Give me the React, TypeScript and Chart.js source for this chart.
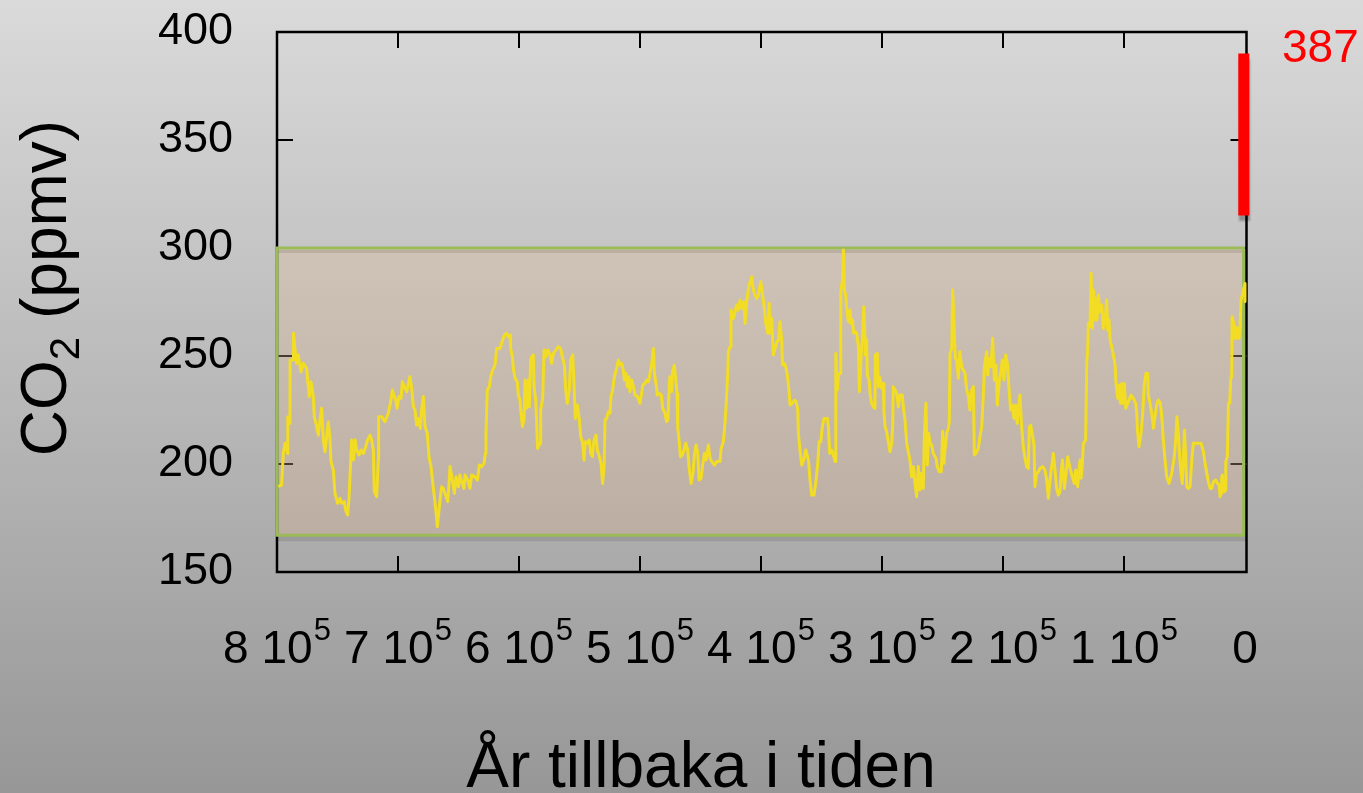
import React, { useEffect, useRef } from "react";
import { Chart, registerables } from "chart.js";

Chart.register(...registerables);

const FONT = "'Liberation Sans', Arial, Helvetica, sans-serif";

// [years before present (thousands), CO2 (ppmv)]
const CO2_RECORD: [number, number][] = [
  [798.9, 189.5], [796.2, 190.3], [794.8, 204.9], [793.4, 209.6], [791.2, 204.9], [791.1, 221.9], [789.3, 218.8], [789.2, 248.1], [786.5, 248.1], [786.4, 260.5],
  [785.1, 252.8], [783.8, 246.6], [782.4, 250.5], [780.2, 242.7], [778.2, 246.6], [775.5, 244.3], [774.7, 238.9], [773.3, 231.2], [771.9, 238.1], [770.0, 231.2],
  [769.2, 221.9], [767.2, 217.3], [765.8, 213.4], [764.5, 220.4], [763.1, 225.8], [761.7, 211.1], [760.3, 205.7], [759.0, 212.7], [757.6, 219.6], [756.2, 211.1],
  [755.4, 201.1], [753.4, 197.2], [752.1, 186.4], [749.9, 181.8], [747.9, 184.1], [746.6, 181.8], [744.4, 182.6], [743.3, 178.7], [741.6, 176.4], [740.5, 184.1],
  [738.3, 211.1], [736.9, 201.8], [735.5, 211.1], [734.2, 206.5], [732.2, 204.2], [730.6, 206.5], [728.6, 204.9], [726.7, 208.0], [725.1, 211.1], [723.1, 213.4],
  [721.8, 211.1], [720.4, 206.5], [719.6, 187.2], [717.6, 184.9], [716.3, 201.8], [716.0, 221.9], [713.5, 221.9], [710.8, 219.6], [708.0, 223.5], [705.8, 229.6],
  [704.7, 234.3], [703.0, 231.2], [701.9, 229.6], [700.8, 225.8], [699.2, 231.2], [697.5, 230.4], [696.4, 238.1], [694.8, 235.8], [692.8, 233.5], [691.5, 237.3],
  [690.1, 240.4], [688.7, 235.0], [687.3, 226.5], [685.9, 225.0], [684.6, 218.0], [683.2, 221.1], [681.5, 216.5], [680.4, 225.8], [679.1, 231.2], [677.7, 217.3],
  [675.8, 214.2], [674.4, 203.4], [672.7, 198.8], [671.6, 192.6], [670.0, 184.9], [668.6, 177.9], [667.5, 171.0], [666.1, 178.7], [664.7, 186.4], [663.9, 189.5],
  [662.5, 188.7], [661.2, 186.4], [658.9, 182.6], [657.9, 190.3], [657.0, 198.8], [655.1, 192.6], [653.4, 186.4], [652.1, 194.1], [650.1, 189.5], [648.8, 194.9],
  [647.4, 191.8], [645.5, 188.7], [644.6, 194.9], [642.4, 192.6], [640.5, 188.7], [639.1, 194.9], [636.4, 194.1],
  [634.4, 192.6], [632.8, 199.5], [630.9, 198.8], [628.9, 200.3], [627.8, 204.9], [627.3, 214.2], [626.2, 234.3], [624.5, 235.8], [623.4, 240.4], [621.8, 243.5],
  [619.8, 245.8], [618.5, 253.5], [615.7, 253.5], [613.5, 257.4], [612.1, 259.7], [610.2, 260.5], [608.8, 258.9], [607.4, 259.7], [606.9, 253.5], [605.5, 249.7],
  [604.7, 244.3], [603.3, 239.7], [601.4, 238.1], [600.6, 231.9], [599.2, 229.6], [598.6, 225.0], [597.2, 217.3], [595.9, 220.4], [595.0, 238.9], [593.7, 225.8],
  [592.3, 238.9], [591.5, 226.5], [590.4, 248.1], [589.5, 249.7], [588.2, 250.5], [587.6, 235.8], [586.2, 229.6], [584.6, 207.2], [582.6, 209.6], [582.1, 225.0],
  [580.4, 230.4], [579.3, 252.8], [577.7, 249.7], [576.3, 252.8], [574.4, 250.5], [573.0, 246.6], [571.6, 251.2], [569.4, 252.8], [567.5, 254.3], [565.6, 253.5],
  [563.9, 248.9], [562.5, 245.8], [561.4, 234.3], [560.1, 228.1], [558.4, 235.0], [557.3, 248.1], [555.6, 250.5], [554.5, 235.8], [553.4, 221.1], [551.8, 227.3],
  [550.1, 220.4], [549.0, 212.7], [547.4, 209.6], [546.3, 201.8], [545.2, 210.3], [543.5, 209.6], [541.9, 211.1], [540.8, 204.9], [539.4, 203.4], [538.0, 211.1],
  [536.4, 213.4], [535.3, 206.5], [533.6, 203.4], [532.2, 200.3], [530.9, 191.0], [529.7, 198.8], [528.9, 220.4], [527.5, 221.1], [526.2, 224.2], [524.8, 223.5],
  [524.0, 231.2], [522.6, 234.3], [521.2, 240.4], [519.3, 244.3], [517.9, 248.1], [516.5, 245.8], [515.1, 246.6], [513.8, 243.5], [512.9, 238.9], [511.8, 242.0],
  [510.5, 235.8], [509.4, 240.4], [508.3, 233.5], [506.9, 238.9], [505.5, 235.8], [504.1, 231.9], [502.2, 231.2], [500.0, 228.1], [498.6, 232.7], [497.8, 236.6],
  [495.9, 237.3], [494.5, 238.9], [493.1, 238.1], [491.7, 242.0], [490.3, 246.6], [489.0, 253.5], [488.1, 242.0], [486.8, 237.3], [485.7, 231.9], [484.0, 232.7],
  [482.4, 231.9], [481.3, 225.8], [479.3, 223.5], [478.0, 219.6], [476.9, 220.4], [475.8, 237.3], [475.2, 240.4],
  [473.8, 233.5], [473.2, 242.7], [471.6, 245.8], [470.5, 238.9], [469.4, 232.7], [468.8, 216.5], [467.7, 211.1], [466.6, 203.4], [465.0, 204.2], [463.3, 207.2],
  [462.2, 209.6], [460.6, 206.5], [459.5, 198.8], [457.8, 191.0], [456.2, 195.7], [455.1, 204.2], [453.7, 208.8], [452.3, 204.9], [451.2, 192.6], [449.5, 193.4],
  [448.4, 198.8], [446.8, 204.9], [445.4, 201.8], [443.5, 208.8], [442.1, 202.6], [440.7, 201.1], [438.5, 199.5], [436.6, 201.1], [433.8, 201.1], [433.0, 207.2],
  [431.1, 210.3], [429.7, 219.6], [428.9, 226.5], [427.5, 242.0], [427.0, 252.0], [425.6, 254.3], [424.8, 271.3], [422.8, 267.4], [421.4, 270.5], [420.3, 273.6],
  [418.7, 271.3], [417.3, 275.9], [415.9, 272.1], [414.3, 275.2], [413.2, 265.1], [411.8, 275.2], [410.4, 281.3], [409.0, 284.4], [407.7, 286.7], [406.3, 280.5],
  [404.9, 278.2], [403.5, 276.7], [402.2, 278.2], [400.2, 284.4], [398.9, 279.0], [397.2, 272.1], [396.1, 265.1], [394.4, 260.5], [393.3, 274.4], [392.2, 260.5],
  [391.1, 267.4], [389.8, 250.5], [388.4, 253.5], [386.7, 256.6], [385.6, 257.4], [384.3, 265.9], [382.9, 257.4], [382.3, 245.8], [380.7, 246.6], [379.6, 245.1],
  [378.2, 241.2], [376.8, 233.5], [376.0, 227.3], [374.1, 228.1], [372.4, 229.6], [371.0, 228.9], [369.6, 225.0], [369.1, 214.2], [367.7, 205.7], [366.3, 199.5],
  [364.7, 201.8], [363.0, 206.5], [360.8, 201.8], [359.5, 192.6], [358.1, 185.6], [356.2, 185.6], [354.5, 192.6], [353.1, 200.3], [352.0, 210.3], [350.6, 210.3],
  [349.3, 217.3], [347.9, 221.1], [345.1, 221.1], [344.3, 217.3], [343.2, 204.9], [341.6, 206.5], [340.2, 204.2], [338.8, 201.1], [338.2, 251.2], [336.9, 234.3],
  [336.0, 241.2], [334.7, 242.0], [334.1, 279.8], [332.7, 285.2], [331.9, 299.1], [331.1, 280.5], [330.0, 278.2], [329.2, 272.1], [327.8, 265.9], [326.4, 271.3],
  [325.6, 265.1], [324.5, 266.7], [323.4, 260.5], [322.3, 261.3], [320.9, 260.5], [319.5, 254.3], [318.7, 233.5], [317.3, 249.7], [316.2, 258.9], [315.1, 272.8],
  [314.0, 257.4],
  [313.8, 250.5], [312.7, 257.4], [312.1, 241.2], [310.5, 238.1], [309.9, 232.7], [308.6, 228.1], [307.2, 226.5], [305.8, 225.8], [305.5, 250.5], [303.9, 251.2],
  [303.0, 235.8], [302.2, 240.4], [301.1, 238.1], [300.3, 235.0], [298.9, 237.3], [298.4, 224.2], [297.5, 217.3], [296.2, 215.0], [294.8, 210.3], [293.4, 205.7],
  [292.0, 209.6], [291.2, 217.3], [290.7, 235.8], [289.3, 234.3], [287.9, 232.7], [286.5, 226.5], [285.1, 231.9], [283.2, 231.9], [282.4, 226.5], [281.0, 220.4],
  [279.6, 209.6], [278.3, 205.7], [276.9, 201.8], [275.5, 194.1], [274.1, 198.8], [272.7, 191.0], [271.4, 184.9], [270.0, 198.8], [268.6, 188.0], [267.2, 195.7],
  [265.9, 188.7], [265.0, 212.7], [263.7, 228.1], [262.6, 199.5], [261.4, 214.2], [260.3, 209.6], [259.0, 208.8], [257.6, 204.9], [255.4, 202.6], [254.3, 198.8],
  [252.6, 196.4], [251.0, 196.4], [249.9, 215.0], [248.8, 200.3], [247.7, 208.0], [246.6, 214.2], [245.2, 216.5], [244.4, 219.6], [243.8, 251.2], [242.4, 253.5],
  [241.6, 280.5], [240.5, 265.1], [239.4, 248.9], [238.3, 248.1], [236.9, 239.7], [235.7, 252.0], [234.2, 245.1], [232.8, 243.5], [231.4, 242.0], [230.0, 234.3],
  [228.7, 231.9], [227.3, 225.0], [225.9, 234.3], [224.5, 235.8], [223.7, 204.2], [222.3, 204.9], [220.4, 207.2], [219.0, 212.7], [217.6, 217.3], [216.3, 231.2],
  [215.4, 245.1], [213.5, 252.0], [212.7, 241.2], [211.3, 248.9], [209.9, 245.1], [208.6, 258.2], [207.2, 238.9], [205.8, 245.8], [204.7, 227.3], [203.0, 238.9],
  [201.9, 242.7], [200.6, 248.1], [199.2, 238.9], [197.8, 250.5], [196.4, 246.6], [195.1, 235.0], [193.7, 225.0], [192.3, 227.3], [190.9, 221.1], [189.5, 227.3],
  [188.2, 218.8], [186.8, 228.1], [186.0, 231.9], [184.6, 217.3], [183.2, 208.0], [181.8, 202.6], [180.5, 198.8], [179.1, 198.0], [178.2, 217.3], [177.1, 218.0],
  [175.5, 212.7], [174.4, 208.8], [173.6, 189.5], [172.2, 195.7], [170.8, 196.4], [169.4, 198.0], [167.2, 198.8], [165.3, 197.2], [163.9, 192.6], [162.5, 184.1],
  [161.2, 192.6], [159.8, 198.8], [158.4, 204.9], [157.0, 197.2], [155.7, 188.7], [154.3, 185.6], [152.9, 187.2],
  [152.0, 195.7], [150.9, 201.8], [149.3, 188.7], [147.9, 195.7], [146.5, 203.4], [144.6, 198.0], [142.7, 194.1], [141.0, 191.0], [139.9, 197.2], [138.3, 189.5],
  [137.2, 197.2], [136.3, 201.8], [135.5, 193.4], [134.4, 200.3], [133.6, 209.6], [131.7, 211.1], [130.8, 246.6], [130.0, 252.8], [129.5, 265.1], [128.1, 263.6],
  [127.2, 288.3], [126.1, 262.8], [125.3, 280.5], [124.5, 266.7], [123.4, 276.7], [122.3, 266.7], [121.2, 278.2], [119.8, 270.5], [118.4, 273.6], [117.1, 262.8],
  [115.7, 265.9], [114.3, 275.9], [113.5, 262.0], [112.4, 266.7], [111.5, 257.4], [110.2, 254.3], [108.8, 250.5], [107.4, 245.8], [106.6, 237.3], [105.2, 230.4],
  [104.1, 236.6], [103.0, 228.1], [101.9, 237.3], [100.8, 228.1], [99.7, 237.3], [98.6, 225.8], [96.9, 228.1], [95.8, 229.6], [94.2, 231.9], [92.3, 230.4],
  [90.3, 228.1], [89.5, 223.5], [88.7, 214.2], [87.6, 208.0], [85.9, 214.2], [84.5, 223.5], [83.2, 237.3], [81.8, 242.0], [80.4, 242.0], [79.9, 231.9],
  [78.5, 228.1], [77.1, 223.5], [75.7, 216.5], [74.4, 221.9], [73.0, 227.3], [71.6, 229.6], [69.9, 228.1], [68.8, 221.9], [67.5, 211.1], [66.1, 201.8],
  [64.7, 194.1], [62.8, 191.0], [60.6, 195.7], [58.4, 203.4], [57.3, 211.1], [56.2, 221.9], [55.1, 214.2], [54.0, 203.4], [52.9, 195.7], [51.8, 191.0],
  [50.9, 203.4], [50.1, 215.7], [49.0, 203.4], [48.2, 189.5], [46.8, 188.7], [45.4, 189.5], [44.0, 201.8], [42.7, 209.6], [39.9, 209.6], [36.3, 209.6],
  [34.4, 205.7], [33.0, 200.3], [31.6, 195.7], [30.3, 191.8], [28.9, 188.7], [27.5, 188.7], [26.1, 191.8], [24.2, 192.6], [22.6, 191.0], [21.5, 190.3],
  [20.6, 184.9], [19.8, 186.4], [19.3, 194.1], [18.7, 194.9], [17.9, 189.5], [17.0, 187.2], [16.2, 188.0], [15.9, 201.1], [14.6, 203.4], [13.7, 228.1],
  [12.6, 228.1], [11.8, 239.7], [11.0, 240.4], [10.7, 268.2], [9.6, 265.9], [8.8, 258.2], [8.0, 263.6], [7.1, 258.2], [6.0, 262.8], [4.9, 258.2],
  [4.1, 263.6], [3.3, 275.9], [1.5, 280.0], [0.0, 283.6], [0.0, 275.2],
];

const MODERN_YEARS_KYR = [1.0, 1.0];
const MODERN_PPMV = [315, 390];
const MODERN_LABEL = "387";

const BAND_PPMV = [167, 300];

const Y_TICKS = [150, 200, 250, 300, 350, 400];
const X_TICKS_KYR = [800, 700, 600, 500, 400, 300, 200, 100, 0];
const X_TICK_BASE = ["8 10", "7 10", "6 10", "5 10", "4 10", "3 10", "2 10", "1 10", "0"];
const X_TICK_SUP = ["5", "5", "5", "5", "5", "5", "5", "5", ""];

const Y_TITLE_MAIN = "CO";
const Y_TITLE_SUB = "2";
const Y_TITLE_REST = " (ppmv)";
const X_TITLE = "År tillbaka i tiden";

export default function App() {
  const canvasRef = useRef<HTMLCanvasElement>(null);

  useEffect(() => {
    const canvas = canvasRef.current;
    if (!canvas) return;

    const deco = {
      id: "deco",
      beforeDraw(chart: any) {
        const { ctx, width, height } = chart;
        ctx.save();
        const g = ctx.createLinearGradient(0, 0, 0, height);
        g.addColorStop(0, "#dadada");
        g.addColorStop(1, "#979797");
        ctx.fillStyle = g;
        ctx.fillRect(0, 0, width, height);
        ctx.restore();
      },
      beforeDatasetsDraw(chart: any) {
        const { ctx } = chart;
        const xs = chart.scales.x;
        const ys = chart.scales.y;
        const L = xs.getPixelForValue(X_TICKS_KYR[0]);
        const R = xs.getPixelForValue(X_TICKS_KYR[X_TICKS_KYR.length - 1]);
        const T = ys.getPixelForValue(Y_TICKS[Y_TICKS.length - 1]);
        const B = ys.getPixelForValue(Y_TICKS[0]);
        const bT = ys.getPixelForValue(BAND_PPMV[1]);
        const bB = ys.getPixelForValue(BAND_PPMV[0]);
        const RA = R + 1.5;

        ctx.save();
        // band shadow + fill
        ctx.fillStyle = "rgba(0,0,0,0.10)";
        ctx.fillRect(L, bB, R - L + 2, 6);
        const bg = ctx.createLinearGradient(0, bT, 0, bB);
        bg.addColorStop(0, "#cfc3b7");
        bg.addColorStop(1, "#bcaea2");
        ctx.fillStyle = bg;
        ctx.fillRect(L, bT, R - L, bB - bT);
        ctx.fillStyle = "rgba(120,100,90,0.22)";
        ctx.fillRect(L, bT + 2, R - L, 3);

        // frame
        ctx.strokeStyle = "#000";
        ctx.lineWidth = 2.5;
        ctx.beginPath();
        ctx.moveTo(L, T);
        ctx.lineTo(RA, T);
        ctx.lineTo(RA, B);
        ctx.lineTo(L, B);
        ctx.closePath();
        ctx.stroke();

        // inward tick marks (mirrored)
        ctx.lineWidth = 2;
        const TL = 16;
        X_TICKS_KYR.forEach((v) => {
          const px = xs.getPixelForValue(v);
          if (px <= L + 1 || px >= R - 1) return;
          ctx.strokeStyle = "#000";
          ctx.beginPath();
          ctx.moveTo(px, B);
          ctx.lineTo(px, B - TL);
          ctx.moveTo(px, T);
          ctx.lineTo(px, T + TL);
          ctx.stroke();
        });
        Y_TICKS.forEach((v) => {
          const py = ys.getPixelForValue(v);
          if (py <= T + 1 || py >= B - 1) return;
          const inBand = py > bT && py < bB;
          ctx.strokeStyle = inBand ? "#463b32" : "#000";
          ctx.beginPath();
          ctx.moveTo(L, py);
          ctx.lineTo(L + TL, py);
          ctx.moveTo(RA, py);
          ctx.lineTo(RA - TL, py);
          ctx.stroke();
        });

        // band border
        ctx.strokeStyle = "#9bbb59";
        ctx.lineWidth = 3;
        ctx.beginPath();
        ctx.moveTo(L, bT);
        ctx.lineTo(R - 1.5, bT);
        ctx.lineTo(R - 1.5, bB);
        ctx.lineTo(L, bB);
        ctx.closePath();
        ctx.stroke();

        // x tick labels with superscripts
        ctx.fillStyle = "#000";
        ctx.textBaseline = "alphabetic";
        ctx.textAlign = "left";
        const baseFont = `46px ${FONT}`;
        const supFont = `31px ${FONT}`;
        const baseY = B + 91;
        X_TICKS_KYR.forEach((v, i) => {
          const px = xs.getPixelForValue(v);
          ctx.font = baseFont;
          const wb = ctx.measureText(X_TICK_BASE[i]).width;
          ctx.font = supFont;
          const ws = X_TICK_SUP[i] ? ctx.measureText(X_TICK_SUP[i]).width + 1 : 0;
          const x0 = px - (wb + ws) / 2;
          ctx.font = baseFont;
          ctx.fillText(X_TICK_BASE[i], x0, baseY);
          if (X_TICK_SUP[i]) {
            ctx.font = supFont;
            ctx.fillText(X_TICK_SUP[i], x0 + wb + 1, baseY - 23);
          }
        });

        // x title
        ctx.font = `64px ${FONT}`;
        ctx.textAlign = "center";
        ctx.fillText(X_TITLE, 701, 787);

        // y title (rotated, with subscript)
        ctx.save();
        ctx.translate(66, 288);
        ctx.rotate(-Math.PI / 2);
        ctx.textAlign = "left";
        ctx.font = `64px ${FONT}`;
        const w1 = ctx.measureText(Y_TITLE_MAIN).width;
        const w3 = ctx.measureText(Y_TITLE_REST).width;
        ctx.font = `42px ${FONT}`;
        const w2 = ctx.measureText(Y_TITLE_SUB).width;
        const start = -(w1 + w2 + w3) / 2;
        ctx.font = `64px ${FONT}`;
        ctx.fillText(Y_TITLE_MAIN, start, 0);
        ctx.font = `42px ${FONT}`;
        ctx.fillText(Y_TITLE_SUB, start + w1, 13);
        ctx.font = `64px ${FONT}`;
        ctx.fillText(Y_TITLE_REST, start + w1 + w2, 0);
        ctx.restore();

        // modern value label
        ctx.fillStyle = "#ff0000";
        ctx.font = `46px ${FONT}`;
        ctx.textAlign = "left";
        ctx.fillText(MODERN_LABEL, 1282, 62);

        ctx.restore();
      },
      beforeDatasetDraw(chart: any, args: any) {
        if (args.index === 0) {
          const ctx = chart.ctx;
          ctx.save();
          ctx.shadowColor = "rgba(0,0,0,0.28)";
          ctx.shadowOffsetX = 1;
          ctx.shadowOffsetY = 5;
          ctx.shadowBlur = 2;
        }
      },
      afterDatasetDraw(chart: any, args: any) {
        if (args.index === 0) chart.ctx.restore();
      },
    };

    const chart = new Chart(canvas, {
      type: "scatter",
      data: {
        datasets: [
          {
            label: "Idag",
            data: MODERN_YEARS_KYR.map((x, i) => ({ x, y: MODERN_PPMV[i] })),
            showLine: true,
            borderColor: "#ff0000",
            borderWidth: 11,
            borderCapStyle: "butt",
            pointRadius: 0,
            pointHoverRadius: 0,
            clip: false,
          } as any,
          {
            label: "CO2",
            data: CO2_RECORD.map(([x, y]) => ({ x, y })),
            showLine: true,
            borderColor: "#f2dd24",
            borderWidth: 3,
            borderJoinStyle: "round",
            pointRadius: 0,
            pointHoverRadius: 0,
            tension: 0,
            clip: false,
          } as any,
        ],
      },
      options: {
        responsive: false,
        maintainAspectRatio: false,
        animation: false,
        events: [],
        layout: { padding: { top: 32, right: 118, bottom: 0, left: 0 } },
        plugins: {
          legend: { display: false },
          tooltip: { enabled: false },
          title: { display: false },
        },
        scales: {
          x: {
            type: "linear",
            reverse: true,
            min: 0,
            max: 800,
            ticks: { display: false },
            grid: { display: false, drawTicks: false },
            border: { display: false },
            afterFit: (s: any) => {
              s.height = 221;
              s.paddingLeft = 0;
              s.paddingRight = 0;
            },
          },
          y: {
            type: "linear",
            min: 150,
            max: 400,
            afterBuildTicks: (s: any) => {
              s.ticks = Y_TICKS.map((v) => ({ value: v }));
            },
            ticks: {
              font: { family: FONT, size: 45 },
              color: "#000",
              padding: 44,
            },
            grid: { display: false, drawTicks: false },
            border: { display: false },
            afterFit: (s: any) => {
              s.width = 277;
              s.paddingTop = 0;
              s.paddingBottom = 0;
            },
          },
        },
      } as any,
      plugins: [deco],
    });

    return () => chart.destroy();
  }, []);

  return (
    <div style={{ position: "absolute", left: 0, top: 0, width: 1363, height: 793 }}>
      <canvas ref={canvasRef} width={1363} height={793} style={{ display: "block" }} />
    </div>
  );
}
